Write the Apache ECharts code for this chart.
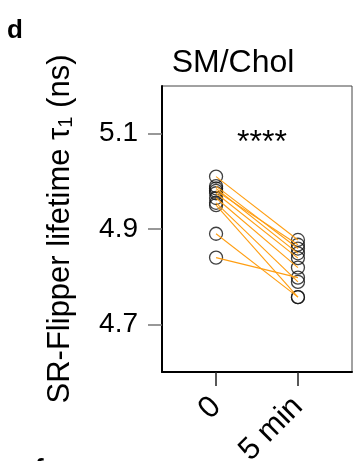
<!DOCTYPE html>
<html>
<head>
<meta charset="utf-8">
<title>SM/Chol lifetime</title>
<script src="https://cdn.jsdelivr.net/npm/echarts@6/dist/echarts.min.js"></script>
<style>
  html, body { margin: 0; padding: 0; background: #fff; }
  #chart { width: 358px; height: 461px; }
</style>
</head>
<body>
<div id="chart"></div>
<script>
// Time points (x positions 0 and 1 on a value axis)
const timeLabels = ['0', '5 min'];
// SR-Flipper lifetime per sample, before and after 5 min
const lifetime0 = [5.01, 4.99, 4.985, 4.98, 4.975, 4.965, 4.955, 4.95, 4.89, 4.84];
const lifetime5 = [4.877, 4.859, 4.849, 4.867, 4.839, 4.819, 4.789, 4.757, 4.757, 4.798];
const yTicks = [4.7, 4.9, 5.1];

const FONT = 'Liberation Sans, Arial, sans-serif';

const pointsData = [];
lifetime0.forEach(v => pointsData.push([0, v]));
lifetime5.forEach(v => pointsData.push([1, v]));

const pairSeries = lifetime0.map((v, i) => ({
  type: 'line',
  data: [[0, v], [1, lifetime5[i]]],
  symbol: 'none',
  lineStyle: { color: '#FF9E12', width: 1.1 },
  z: 3,
  silent: true,
  animation: false
}));

const chart = echarts.init(document.getElementById('chart'), null, { renderer: 'canvas' });
chart.setOption({
  animation: false,
  title: {
    text: 'SM/Chol',
    left: 228,
    top: 42,
    textAlign: 'center',
    textStyle: { fontFamily: FONT, fontSize: 32, fontWeight: 'normal', color: '#000' }
  },
  grid: {
    left: 162, right: 6, top: 86, bottom: 89,
    outerBoundsMode: 'none',
    containLabel: false,
    show: true, borderColor: '#444', borderWidth: 1, backgroundColor: 'transparent'
  },
  xAxis: {
    type: 'value',
    min: -0.66, max: 1.66,
    splitLine: { show: false },
    axisLine: { show: true, onZero: false, lineStyle: { color: '#000', width: 2 } },
    axisTick: { show: true, length: 14, customValues: [0, 1], lineStyle: { color: '#222', width: 1.5 } },
    axisLabel: {
      customValues: [0, 1],
      rotate: 45,
      margin: 30,
      fontFamily: FONT, fontSize: 31, color: '#000',
      formatter: v => timeLabels[Math.round(v)]
    }
  },
  yAxis: {
    type: 'value',
    min: 4.6, max: 5.2,
    splitLine: { show: false },
    axisLine: { show: true, onZero: false, lineStyle: { color: '#000', width: 2 } },
    axisTick: { show: true, length: 14, customValues: yTicks, lineStyle: { color: '#777', width: 1.5 } },
    axisLabel: {
      customValues: yTicks,
      margin: 24,
      fontFamily: FONT, fontSize: 28, color: '#000',
      formatter: v => v.toFixed(1)
    },
    name: '{a|SR-Flipper lifetime τ}{s|1}{a| (ns)}',
    nameLocation: 'middle',
    nameGap: 86,
    nameTextStyle: {
      rich: {
        a: { fontFamily: FONT, fontSize: 31, color: '#000' },
        s: { fontFamily: FONT, fontSize: 20, color: '#000', padding: [12, 0, 0, 0] }
      }
    }
  },
  graphic: [
    { type: 'text', left: 7, top: 18, style: { text: 'd', font: 'bold 26px ' + FONT, fill: '#000' } },
    { type: 'text', left: 35, top: 457, style: { text: 'f', font: 'bold 26px ' + FONT, fill: '#000' } },
    { type: 'text', x: 262, y: 127, style: { text: '****', font: '32px ' + FONT, fill: '#000', align: 'center', verticalAlign: 'top' } }
  ],
  series: [
    {
      type: 'scatter',
      data: pointsData,
      symbol: 'circle',
      symbolSize: 13,
      itemStyle: { color: 'rgba(0,0,0,0)', borderColor: '#111', borderWidth: 1.3 },
      z: 2,
      silent: true
    }
  ].concat(pairSeries)
});
</script>
</body>
</html>
